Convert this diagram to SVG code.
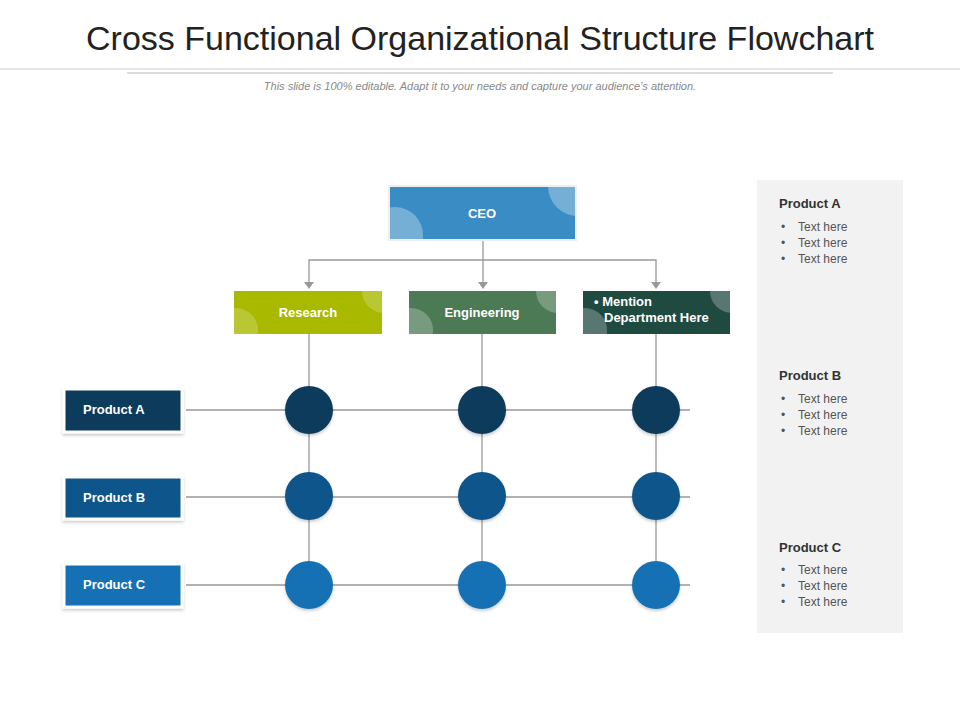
<svg xmlns="http://www.w3.org/2000/svg" width="960" height="720" viewBox="0 0 960 720">
<defs>
<style>
text{font-family:"Liberation Sans",Arial,sans-serif}
.b{font-weight:bold;fill:#fff;font-size:13px}
.ln{stroke:#999;stroke-width:1.3;fill:none}
.h{font-weight:bold;font-size:13px;fill:#333}
.t{font-size:12px;fill:#555}
</style>
<marker id="ar" viewBox="0 0 10 10" refX="5" refY="8" markerWidth="8" markerHeight="8" orient="auto-start-reverse" markerUnits="userSpaceOnUse"><path d="M0,0 L10,0 L5,10z" fill="#999" transform="rotate(-90 5 5)"/></marker>
<filter id="sh" x="-20%" y="-20%" width="140%" height="150%"><feDropShadow dx="0" dy="2" stdDeviation="1.5" flood-color="#000" flood-opacity="0.2"/></filter>
<clipPath id="c1"><rect x="389" y="186" width="187" height="54"/></clipPath>
<clipPath id="c2"><rect x="234" y="291" width="148" height="43"/></clipPath>
<clipPath id="c3"><rect x="409" y="291" width="147" height="43"/></clipPath>
<clipPath id="c4"><rect x="583" y="291" width="147" height="43"/></clipPath>
</defs>
<rect width="960" height="720" fill="#fff"/>
<text x="480" y="50" text-anchor="middle" font-size="34" fill="#222">Cross Functional Organizational Structure Flowchart</text>
<line x1="0" y1="69" x2="960" y2="69" stroke="#ccc"/>
<line x1="127" y1="73" x2="833" y2="73" stroke="#bbb"/>
<text x="480" y="90" text-anchor="middle" font-size="11" font-style="italic" fill="#888">This slide is 100% editable. Adapt it to your needs and capture your audience’s attention.</text>
<rect x="757" y="180" width="146" height="453" fill="#f2f2f2"/>
<g id="legend">
<text class="h" x="779" y="208">Product A</text>
<text class="t" x="781" y="231">•</text><text class="t" x="798" y="231">Text here</text>
<text class="t" x="781" y="247">•</text><text class="t" x="798" y="247">Text here</text>
<text class="t" x="781" y="263">•</text><text class="t" x="798" y="263">Text here</text>
<text class="h" x="779" y="380">Product B</text>
<text class="t" x="781" y="403">•</text><text class="t" x="798" y="403">Text here</text>
<text class="t" x="781" y="419">•</text><text class="t" x="798" y="419">Text here</text>
<text class="t" x="781" y="435">•</text><text class="t" x="798" y="435">Text here</text>
<text class="h" x="779" y="552">Product C</text>
<text class="t" x="781" y="574">•</text><text class="t" x="798" y="574">Text here</text>
<text class="t" x="781" y="590">•</text><text class="t" x="798" y="590">Text here</text>
<text class="t" x="781" y="606">•</text><text class="t" x="798" y="606">Text here</text>
</g>
<g id="connectors">
<path class="ln" d="M483 240 V288"/>
<path class="ln" d="M309 288 V260 H656 V288"/>
<path d="M304 282 h10 l-5 7z M478 282 h10 l-5 7z M651 282 h10 l-5 7z" fill="#999"/>
<path class="ln" d="M309 334 V585 M482 334 V585 M656 334 V585"/>
<path class="ln" d="M186 410 H690 M186 497 H690 M186 585 H690"/>
</g>
<g id="ceo" clip-path="url(#c1)"><rect x="389" y="186" width="187" height="54" fill="#3a8dc4"/><circle cx="395" cy="235" r="28" fill="#fff" opacity="0.3"/><circle cx="578" cy="186" r="30" fill="#fff" opacity="0.3"/></g>
<rect x="389" y="186" width="187" height="54" fill="none" stroke="#eee" stroke-width="2"/>
<text class="b" x="482" y="218" text-anchor="middle" font-size="17">CEO</text>
<g id="research"><g clip-path="url(#c2)"><rect x="234" y="291" width="148" height="43" fill="#a8b900"/><circle cx="236" cy="330" r="22" fill="#fff" opacity="0.2"/><circle cx="384" cy="291" r="22" fill="#fff" opacity="0.2"/></g><text class="b" x="308" y="317" text-anchor="middle">Research</text></g>
<g id="engineering"><g clip-path="url(#c3)"><rect x="409" y="291" width="147" height="43" fill="#4b7a55"/><circle cx="411" cy="330" r="22" fill="#fff" opacity="0.25"/><circle cx="558" cy="291" r="22" fill="#fff" opacity="0.25"/></g><text class="b" x="482" y="317" text-anchor="middle">Engineering</text></g>
<g id="mention"><g clip-path="url(#c4)"><rect x="583" y="291" width="147" height="43" fill="#1f4a40"/><circle cx="585" cy="330" r="22" fill="#fff" opacity="0.25"/><circle cx="732" cy="291" r="22" fill="#fff" opacity="0.25"/></g><text class="b" x="594" y="306">• Mention</text><text class="b" x="604" y="322">Department Here</text></g>
<g id="productA"><rect x="64" y="389" width="118" height="43" fill="#0d3a5c" stroke="#fff" stroke-width="3" filter="url(#sh)"/><text class="b" x="83" y="414">Product A</text></g>
<g id="productB"><rect x="64" y="477" width="118" height="42" fill="#10548a" stroke="#fff" stroke-width="3" filter="url(#sh)"/><text class="b" x="83" y="502">Product B</text></g>
<g id="productC"><rect x="64" y="564" width="118" height="43" fill="#1570b4" stroke="#fff" stroke-width="3" filter="url(#sh)"/><text class="b" x="83" y="589">Product C</text></g>
<g id="circles" filter="url(#sh)">
<circle cx="309" cy="410" r="24" fill="#0d3a5c"/><circle cx="482" cy="410" r="24" fill="#0d3a5c"/><circle cx="656" cy="410" r="24" fill="#0d3a5c"/>
<circle cx="309" cy="496" r="24" fill="#10548a"/><circle cx="482" cy="496" r="24" fill="#10548a"/><circle cx="656" cy="496" r="24" fill="#10548a"/>
<circle cx="309" cy="585" r="24" fill="#1570b4"/><circle cx="482" cy="585" r="24" fill="#1570b4"/><circle cx="656" cy="585" r="24" fill="#1570b4"/>
</g>
</svg>
